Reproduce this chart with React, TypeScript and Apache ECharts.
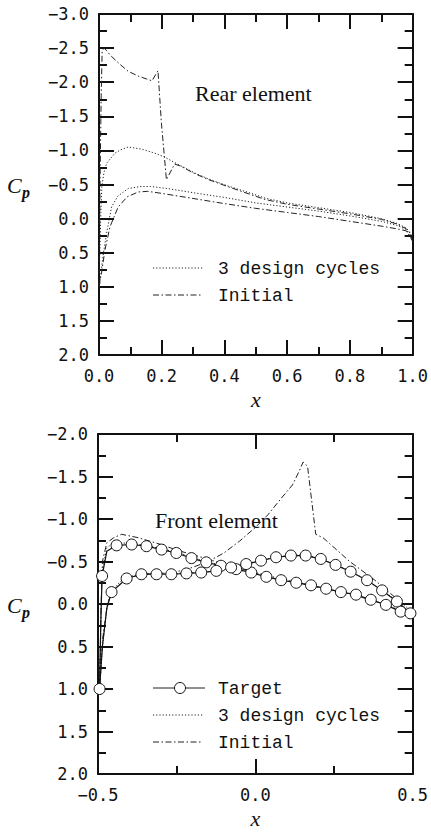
import React, { useEffect, useRef } from "react";
import * as echarts from "echarts";

// ---------- Rear element (top panel): [x, Cp] ----------
const rearDesignUpper: number[][] = [
  [0.0, 1.0], [0.002, 0.6], [0.003, 0.46], [0.006, -0.1], [0.009, -0.47], [0.016, -0.68],
  [0.024, -0.81], [0.051, -0.96], [0.07, -1.01], [0.093, -1.05], [0.135, -1.02], [0.178, -0.96],
  [0.21, -0.9], [0.25, -0.8], [0.305, -0.67], [0.35, -0.58], [0.41, -0.48], [0.485, -0.37],
  [0.53, -0.3], [0.6, -0.23], [0.7, -0.16], [0.8, -0.09], [0.9, 0.0], [0.95, 0.07],
  [0.98, 0.14], [0.993, 0.21], [1.0, 0.33],
];
const rearDesignLower: number[][] = [
  [0.0, 1.0], [0.003, 0.95], [0.008, 0.72], [0.014, 0.51], [0.024, 0.22], [0.04, -0.17],
  [0.06, -0.33], [0.093, -0.44], [0.13, -0.47], [0.165, -0.47], [0.22, -0.44], [0.3, -0.38],
  [0.4, -0.31], [0.5, -0.23], [0.6, -0.17], [0.7, -0.11], [0.8, -0.04], [0.9, 0.04],
  [0.95, 0.1], [0.98, 0.16], [1.0, 0.33],
];
const rearInitialUpper: number[][] = [
  [0.0, 1.0], [0.002, 0.2], [0.004, -0.8], [0.007, -1.8], [0.01, -2.45], [0.016, -2.5],
  [0.025, -2.46], [0.035, -2.4], [0.051, -2.33], [0.07, -2.25], [0.093, -2.16], [0.125, -2.09],
  [0.15, -2.05], [0.169, -2.02], [0.188, -2.17], [0.199, -1.4], [0.215, -0.57], [0.241, -0.8],
  [0.26, -0.77], [0.305, -0.66], [0.35, -0.57], [0.41, -0.47], [0.485, -0.35], [0.53, -0.28],
  [0.6, -0.21], [0.7, -0.14], [0.8, -0.07], [0.9, 0.01], [0.95, 0.08], [0.98, 0.15],
  [0.993, 0.22], [1.0, 0.33],
];
const rearInitialLower: number[][] = [
  [0.0, 1.0], [0.003, 0.92], [0.008, 0.8], [0.019, 0.46], [0.035, 0.12], [0.061, -0.17],
  [0.09, -0.32], [0.125, -0.39], [0.155, -0.4], [0.2, -0.37], [0.32, -0.28], [0.4, -0.22],
  [0.5, -0.15], [0.6, -0.09], [0.7, -0.03], [0.8, 0.04], [0.9, 0.11], [0.95, 0.15],
  [0.98, 0.18], [1.0, 0.33],
];

// ---------- Front element (bottom panel): [x, Cp, marker?] ----------
const frontTargetUpper: number[][] = [
  [-0.495, 1.0, 1], [-0.491, 0.2, 0], [-0.487, -0.33, 1], [-0.472, -0.62, 0], [-0.441, -0.69, 1],
  [-0.393, -0.7, 1], [-0.346, -0.68, 1], [-0.298, -0.64, 1], [-0.251, -0.6, 1], [-0.203, -0.54, 1],
  [-0.156, -0.49, 1], [-0.109, -0.45, 1], [-0.061, -0.41, 1], [-0.013, -0.37, 1], [0.035, -0.32, 1],
  [0.082, -0.28, 1], [0.13, -0.25, 1], [0.177, -0.22, 1], [0.225, -0.18, 1], [0.272, -0.14, 1],
  [0.32, -0.11, 1], [0.367, -0.05, 1], [0.415, 0.01, 1], [0.462, 0.09, 1], [0.5, 0.13, 0],
];
const frontTargetLower: number[][] = [
  [-0.495, 1.0, 0], [-0.486, 0.5, 0], [-0.472, 0.05, 0], [-0.457, -0.14, 1], [-0.409, -0.3, 1],
  [-0.362, -0.35, 1], [-0.314, -0.35, 1], [-0.267, -0.35, 1], [-0.219, -0.36, 1], [-0.172, -0.37, 1],
  [-0.124, -0.39, 1], [-0.077, -0.43, 1], [-0.029, -0.47, 1], [0.018, -0.51, 1], [0.066, -0.55, 1],
  [0.113, -0.57, 1], [0.16, -0.57, 1], [0.208, -0.53, 1], [0.255, -0.46, 1], [0.303, -0.38, 1],
  [0.355, -0.28, 1], [0.403, -0.16, 1], [0.45, -0.03, 1], [0.493, 0.11, 1],
];
const frontDesignUpper: number[][] = [
  [-0.495, 1.0], [-0.491, 0.2], [-0.487, -0.38], [-0.472, -0.66], [-0.455, -0.71], [-0.43, -0.72],
  [-0.39, -0.71], [-0.346, -0.69], [-0.3, -0.65], [-0.25, -0.61], [-0.2, -0.55], [-0.15, -0.49],
  [-0.1, -0.45], [-0.05, -0.4], [0.0, -0.36], [0.05, -0.31], [0.1, -0.27], [0.15, -0.24],
  [0.2, -0.2], [0.25, -0.16], [0.3, -0.12], [0.35, -0.07], [0.4, -0.01], [0.45, 0.06], [0.5, 0.13],
];
const frontDesignLower: number[][] = [
  [-0.495, 1.0], [-0.486, 0.5], [-0.472, 0.05], [-0.457, -0.15], [-0.43, -0.26], [-0.41, -0.31],
  [-0.36, -0.36], [-0.3, -0.36], [-0.25, -0.36], [-0.2, -0.37], [-0.15, -0.38], [-0.1, -0.41],
  [-0.05, -0.45], [0.0, -0.5], [0.05, -0.54], [0.1, -0.57], [0.15, -0.58], [0.2, -0.54],
  [0.25, -0.47], [0.3, -0.39], [0.35, -0.29], [0.4, -0.17], [0.45, -0.04], [0.5, 0.12],
];
const frontInitialUpper: number[][] = [
  [-0.495, 1.0], [-0.49, 0.0], [-0.486, -0.5], [-0.472, -0.72], [-0.45, -0.78], [-0.425, -0.82],
  [-0.372, -0.78], [-0.3, -0.7], [-0.246, -0.63], [-0.152, -0.53], [-0.1, -0.47], [-0.05, -0.42],
  [0.0, -0.37], [0.1, -0.28], [0.2, -0.2], [0.3, -0.12], [0.4, -0.01], [0.46, 0.08], [0.5, 0.13],
];
const frontInitialLower: number[][] = [
  [-0.495, 1.0], [-0.485, 0.4], [-0.47, 0.0], [-0.455, -0.15], [-0.41, -0.3], [-0.36, -0.35],
  [-0.3, -0.36], [-0.25, -0.38], [-0.2, -0.43], [-0.15, -0.5], [-0.1, -0.6], [-0.05, -0.74],
  [0.0, -0.9], [0.04, -1.05], [0.086, -1.26], [0.118, -1.4], [0.139, -1.56], [0.152, -1.67],
  [0.166, -1.62], [0.192, -0.82], [0.215, -0.78], [0.3, -0.5], [0.38, -0.28], [0.45, -0.06],
  [0.5, 0.1],
];

// ---------- axis ranges ----------
const rearX = { min: 0, max: 1, interval: 0.2 };
const rearY = { min: -3, max: 2, interval: 0.5 };
const frontX = { min: -0.5, max: 0.5, interval: 0.5 };
const frontY = { min: -2, max: 2, interval: 0.5 };

const legendRear = ["3 design cycles", "Initial"];
const legendFront = ["Target", "3 design cycles", "Initial"];

const INK = "#222";
const DOT = [1.2, 2];
const DASHDOT = [6, 2.5, 1.5, 2.5];
const TICK_FONT = "DejaVu Sans Mono";

const fmt = (v: number) => v.toFixed(1).replace("-", "\u2212");

function axisCommon(r: { min: number; max: number; interval: number }, gridIndex: number, position: string, labels: boolean, margin = 12) {
  return {
    type: "value",
    gridIndex,
    position,
    min: r.min,
    max: r.max,
    interval: r.interval,
    axisLine: { show: true, onZero: false, lineStyle: { color: "#111", width: 2 } },
    axisTick: { show: true, inside: true, length: 15, lineStyle: { color: "#111", width: 2 } },
    minorTick: { show: true, splitNumber: 2, length: 8, lineStyle: { color: "#111", width: 2 } },
    splitLine: { show: false },
    minorSplitLine: { show: false },
    axisLabel: {
      show: labels,
      formatter: fmt,
      fontFamily: TICK_FONT,
      fontSize: 17,
      color: "#111",
      margin,
    },
  };
}

function line(data: number[][], dash: number[], xi: number, yi: number) {
  return {
    type: "line",
    xAxisIndex: xi,
    yAxisIndex: yi,
    data,
    symbol: "none",
    showSymbol: false,
    silent: true,
    lineStyle: { color: INK, width: 1, type: dash },
    z: 2,
  };
}

function target(data: number[][], xi: number, yi: number) {
  return {
    type: "line",
    xAxisIndex: xi,
    yAxisIndex: yi,
    data: data.map((d) => ({ value: [d[0], d[1]], symbol: d[2] ? "circle" : "none" })),
    symbolSize: 11,
    showSymbol: true,
    silent: true,
    lineStyle: { color: "#111", width: 1.2 },
    itemStyle: { color: "#fff", borderColor: "#111", borderWidth: 1 },
    z: 3,
  };
}

const xName = {
  name: "x",
  nameLocation: "middle",
  nameGap: 33,
  nameTextStyle: { fontFamily: "Liberation Serif", fontStyle: "italic", fontSize: 22, color: "#111" },
};

export default function App() {
  const ref = useRef<HTMLDivElement>(null);

  useEffect(() => {
    if (!ref.current) return;
    const chart = echarts.init(ref.current, null, { renderer: "svg" });

    const xAxes = [
      { ...axisCommon(rearX, 0, "bottom", true, 12), ...xName },
      axisCommon(rearX, 0, "top", false),
      { ...axisCommon(frontX, 1, "bottom", true, 12), ...xName },
      axisCommon(frontX, 1, "top", false),
    ];
    const yAxes = [
      { ...axisCommon(rearY, 0, "left", true, 10), inverse: true },
      { ...axisCommon(rearY, 0, "right", false), inverse: true },
      { ...axisCommon(frontY, 1, "left", true, 10), inverse: true },
      { ...axisCommon(frontY, 1, "right", false), inverse: true },
    ];

    const legendText = (t: string, x: number, y: number) => ({
      type: "text", x, y, silent: true,
      style: { text: t, font: '18px "Liberation Mono"', fill: "#111", verticalAlign: "middle" },
    });
    const legendLine = (dash: number[] | null, x1: number, x2: number, y: number) => ({
      type: "line", silent: true,
      shape: { x1, y1: y, x2, y2: y },
      style: { stroke: INK, lineWidth: 1, lineDash: dash || undefined },
    });
    const cp = (y: number) => [
      { type: "text", x: 7, y, silent: true,
        style: { text: "C", font: 'italic 22px "Liberation Serif"', fill: "#111", verticalAlign: "middle" } },
      { type: "text", x: 22, y: y + 7, silent: true,
        style: { text: "p", font: 'italic bold 16px "Liberation Serif"', fill: "#111", verticalAlign: "middle" } },
    ];

    const option = {
      animation: false,
      backgroundColor: "#fff",
      grid: [
        { left: 99, top: 14, width: 315, height: 341, containLabel: false },
        { left: 98, top: 434, width: 316, height: 340, containLabel: false },
      ],
      xAxis: xAxes,
      yAxis: yAxes,
      series: [
        line(rearDesignUpper, DOT, 0, 0),
        line(rearDesignLower, DOT, 0, 0),
        line(rearInitialUpper, DASHDOT, 0, 0),
        line(rearInitialLower, DASHDOT, 0, 0),
        line(frontDesignUpper, DOT, 2, 2),
        line(frontDesignLower, DOT, 2, 2),
        line(frontInitialUpper, DASHDOT, 2, 2),
        line(frontInitialLower, DASHDOT, 2, 2),
        target(frontTargetUpper, 2, 2),
        target(frontTargetLower, 2, 2),
      ],
      graphic: [
        { type: "text", x: 195, y: 93, silent: true,
          style: { text: "Rear element", font: '22px "Liberation Serif"', fill: "#111", verticalAlign: "middle" } },
        { type: "text", x: 155, y: 520, silent: true,
          style: { text: "Front element", font: '22px "Liberation Serif"', fill: "#111", verticalAlign: "middle" } },
        ...cp(185),
        ...cp(605),
        legendLine(DOT, 153, 203, 268),
        legendText(legendRear[0], 218, 269),
        legendLine(DASHDOT, 153, 203, 295),
        legendText(legendRear[1], 218, 296),
        legendLine(null, 153, 205, 688),
        { type: "circle", silent: true, shape: { cx: 180, cy: 688, r: 5.5 },
          style: { fill: "#fff", stroke: "#111", lineWidth: 1 } },
        legendText(legendFront[0], 218, 689),
        legendLine(DOT, 153, 203, 715),
        legendText(legendFront[1], 218, 716),
        legendLine(DASHDOT, 153, 203, 742),
        legendText(legendFront[2], 218, 743),
      ],
    };

    chart.setOption(option as any);
    return () => chart.dispose();
  }, []);

  return (
    <div
      ref={ref}
      style={{ position: "absolute", left: 0, top: 0, width: 431, height: 833, background: "#fff" }}
    />
  );
}
